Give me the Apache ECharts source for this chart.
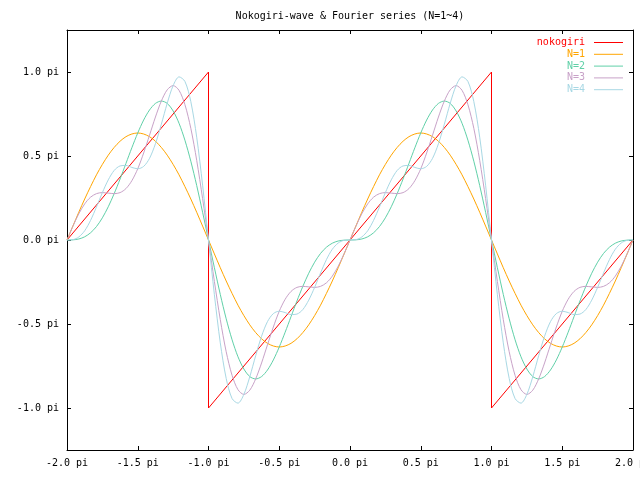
<!DOCTYPE html>
<html>
<head>
<meta charset="utf-8">
<script src="https://cdn.jsdelivr.net/npm/echarts@6/dist/echarts.min.js"></script>
<style>html,body{margin:0;padding:0;background:#fff}#c{width:640px;height:480px}</style>
</head>
<body>
<div id="c"></div>
<script>
// x positions in units of pi
const xs = [-2, -1.9583, -1.9167, -1.875, -1.8333, -1.7917, -1.75, -1.7083, -1.6667, -1.625, -1.5833, -1.5417, -1.5, -1.4583, -1.4167, -1.375, -1.3333, -1.2917, -1.25, -1.2083, -1.1667, -1.125, -1.0833, -1.0417, -1,
 -0.9583, -0.9167, -0.875, -0.8333, -0.7917, -0.75, -0.7083, -0.6667, -0.625, -0.5833, -0.5417, -0.5, -0.4583, -0.4167, -0.375, -0.3333, -0.2917, -0.25, -0.2083, -0.1667, -0.125, -0.0833, -0.0417, 0,
 0.0417, 0.0833, 0.125, 0.1667, 0.2083, 0.25, 0.2917, 0.3333, 0.375, 0.4167, 0.4583, 0.5, 0.5417, 0.5833, 0.625, 0.6667, 0.7083, 0.75, 0.7917, 0.8333, 0.875, 0.9167, 0.9583, 1,
 1.0417, 1.0833, 1.125, 1.1667, 1.2083, 1.25, 1.2917, 1.3333, 1.375, 1.4167, 1.4583, 1.5, 1.5417, 1.5833, 1.625, 1.6667, 1.7083, 1.75, 1.7917, 1.8333, 1.875, 1.9167, 1.9583, 2];

const n1 = [0, 0.083, 0.165, 0.244, 0.318, 0.388, 0.450, 0.505, 0.551, 0.588, 0.615, 0.631, 0.637, 0.631, 0.615, 0.588, 0.551, 0.505, 0.450, 0.388, 0.318, 0.244, 0.165, 0.083, 0,
 -0.083, -0.165, -0.244, -0.318, -0.388, -0.450, -0.505, -0.551, -0.588, -0.615, -0.631, -0.637, -0.631, -0.615, -0.588, -0.551, -0.505, -0.450, -0.388, -0.318, -0.244, -0.165, -0.083, 0,
 0.083, 0.165, 0.244, 0.318, 0.388, 0.450, 0.505, 0.551, 0.588, 0.615, 0.631, 0.637, 0.631, 0.615, 0.588, 0.551, 0.505, 0.450, 0.388, 0.318, 0.244, 0.165, 0.083, 0,
 -0.083, -0.165, -0.244, -0.318, -0.388, -0.450, -0.505, -0.551, -0.588, -0.615, -0.631, -0.637, -0.631, -0.615, -0.588, -0.551, -0.505, -0.450, -0.388, -0.318, -0.244, -0.165, -0.083, 0];

const n2 = [0, 0.001, 0.006, 0.019, 0.043, 0.080, 0.132, 0.198, 0.276, 0.363, 0.456, 0.549, 0.637, 0.714, 0.774, 0.813, 0.827, 0.813, 0.768, 0.695, 0.594, 0.469, 0.324, 0.165, 0,
 -0.165, -0.324, -0.469, -0.594, -0.695, -0.768, -0.813, -0.827, -0.813, -0.774, -0.714, -0.637, -0.549, -0.456, -0.363, -0.276, -0.198, -0.132, -0.080, -0.043, -0.019, -0.006, -0.001, 0,
 0.001, 0.006, 0.019, 0.043, 0.080, 0.132, 0.198, 0.276, 0.363, 0.456, 0.549, 0.637, 0.714, 0.774, 0.813, 0.827, 0.813, 0.768, 0.695, 0.594, 0.469, 0.324, 0.165, 0,
 -0.165, -0.324, -0.469, -0.594, -0.695, -0.768, -0.813, -0.827, -0.813, -0.774, -0.714, -0.637, -0.549, -0.456, -0.363, -0.276, -0.198, -0.132, -0.080, -0.043, -0.019, -0.006, -0.001, 0];

const n3 = [0, 0.082, 0.156, 0.215, 0.255, 0.276, 0.282, 0.279, 0.276, 0.282, 0.306, 0.353, 0.424, 0.518, 0.624, 0.732, 0.827, 0.894, 0.919, 0.891, 0.806, 0.665, 0.474, 0.247, 0,
 -0.247, -0.474, -0.665, -0.806, -0.891, -0.919, -0.894, -0.827, -0.732, -0.624, -0.518, -0.424, -0.353, -0.306, -0.282, -0.276, -0.279, -0.282, -0.276, -0.255, -0.215, -0.156, -0.082, 0,
 0.082, 0.156, 0.215, 0.255, 0.276, 0.282, 0.279, 0.276, 0.282, 0.306, 0.353, 0.424, 0.518, 0.624, 0.732, 0.827, 0.894, 0.919, 0.891, 0.806, 0.665, 0.474, 0.247, 0,
 -0.247, -0.474, -0.665, -0.806, -0.891, -0.919, -0.894, -0.827, -0.732, -0.624, -0.518, -0.424, -0.353, -0.306, -0.282, -0.276, -0.279, -0.282, -0.276, -0.255, -0.215, -0.156, -0.082, 0];

const n4 = [0, 0.002, 0.018, 0.055, 0.117, 0.197, 0.282, 0.358, 0.414, 0.441, 0.444, 0.432, 0.424, 0.438, 0.486, 0.573, 0.689, 0.814, 0.919, 0.971, 0.944, 0.824, 0.612, 0.326, 0,
 -0.326, -0.612, -0.824, -0.944, -0.971, -0.919, -0.814, -0.689, -0.573, -0.486, -0.438, -0.424, -0.432, -0.444, -0.441, -0.414, -0.358, -0.282, -0.197, -0.117, -0.055, -0.018, -0.002, 0,
 0.002, 0.018, 0.055, 0.117, 0.197, 0.282, 0.358, 0.414, 0.441, 0.444, 0.432, 0.424, 0.438, 0.486, 0.573, 0.689, 0.814, 0.919, 0.971, 0.944, 0.824, 0.612, 0.326, 0,
 -0.326, -0.612, -0.824, -0.944, -0.971, -0.919, -0.814, -0.689, -0.573, -0.486, -0.438, -0.424, -0.432, -0.444, -0.441, -0.414, -0.358, -0.282, -0.197, -0.117, -0.055, -0.018, -0.002, 0];

// sawtooth corners (units of pi)
const nokoX = [-2, -1, -1, 1, 1, 2];
const nokoY = [0, 1, -1, 1, -1, 0];

const yTicks = [-1, -0.5, 0, 0.5, 1];
const seriesNames = ['nokogiri', 'N=1', 'N=2', 'N=3', 'N=4'];
const colors = ['#ff0000', '#ffa500', '#60d0a8', '#c8a2c8', '#a8d8e4'];

const FONT = 'DejaVu Sans Mono';
const fmt = v => v.toFixed(1) + ' pi';
const zip = (a, b) => a.map((v, i) => [v, b[i]]);

const fourier = [n1, n2, n3, n4];
const series = [{
  name: seriesNames[0], type: 'line', data: zip(nokoX, nokoY), symbol: 'none',
  lineStyle: { width: 1, color: colors[0] }, itemStyle: { color: colors[0] }, animation: false
}].concat(fourier.map((d, i) => ({
  name: seriesNames[i + 1], type: 'line', data: zip(xs, d), symbol: 'none', smooth: 0.3,
  lineStyle: { width: 1, color: colors[i + 1] }, itemStyle: { color: colors[i + 1] }, animation: false
})));

const legends = seriesNames.map((n, i) => ({
  data: [{ name: n, textStyle: { color: colors[i] } }],
  right: 17, top: 37.5 + i * 11.8, align: 'right', orient: 'vertical',
  icon: 'rect', itemWidth: 29, itemHeight: 1, padding: 0, selectedMode: false,
  textStyle: { fontFamily: FONT, fontSize: 10, padding: [0, 4, 0, 0] }
}));

const axisCommon = {
  type: 'value', splitLine: { show: false },
  axisLine: { show: true, onZero: false, lineStyle: { color: '#000', width: 1 } },
  axisTick: { show: true, inside: true, length: 4, lineStyle: { color: '#000' } },
};

const chart = echarts.init(document.getElementById('c'), null, { renderer: 'canvas' });
chart.setOption({
  animation: false,
  backgroundColor: '#fff',
  title: {
    text: 'Nokogiri-wave & Fourier series (N=1~4)', left: 345, top: 6, textAlign: 'center',
    textStyle: { fontFamily: FONT, fontSize: 10, fontWeight: 'normal', color: '#000' }
  },
  legend: legends,
  grid: { left: 67, right: 7, top: 30, bottom: 30, containLabel: false, outerBoundsMode: 'none' },
  xAxis: [
    Object.assign({}, axisCommon, {
      position: 'bottom', min: -2, max: 2, interval: 0.5,
      axisLabel: { formatter: fmt, fontFamily: FONT, fontSize: 10, color: '#000', margin: 8, showMaxLabel: true, showMinLabel: true }
    }),
    Object.assign({}, axisCommon, {
      position: 'top', min: -2, max: 2, interval: 0.5, axisLabel: { show: false }
    })
  ],
  yAxis: [
    Object.assign({}, axisCommon, {
      position: 'left', min: -1.25, max: 1.25,
      axisTick: Object.assign({}, axisCommon.axisTick, { customValues: yTicks }),
      axisLabel: { customValues: yTicks, formatter: fmt, fontFamily: FONT, fontSize: 10, color: '#000', margin: 8 }
    }),
    Object.assign({}, axisCommon, {
      position: 'right', min: -1.25, max: 1.25,
      axisTick: Object.assign({}, axisCommon.axisTick, { customValues: yTicks }),
      axisLabel: { show: false, customValues: yTicks }
    })
  ],
  series: series
});
</script>
</body>
</html>
